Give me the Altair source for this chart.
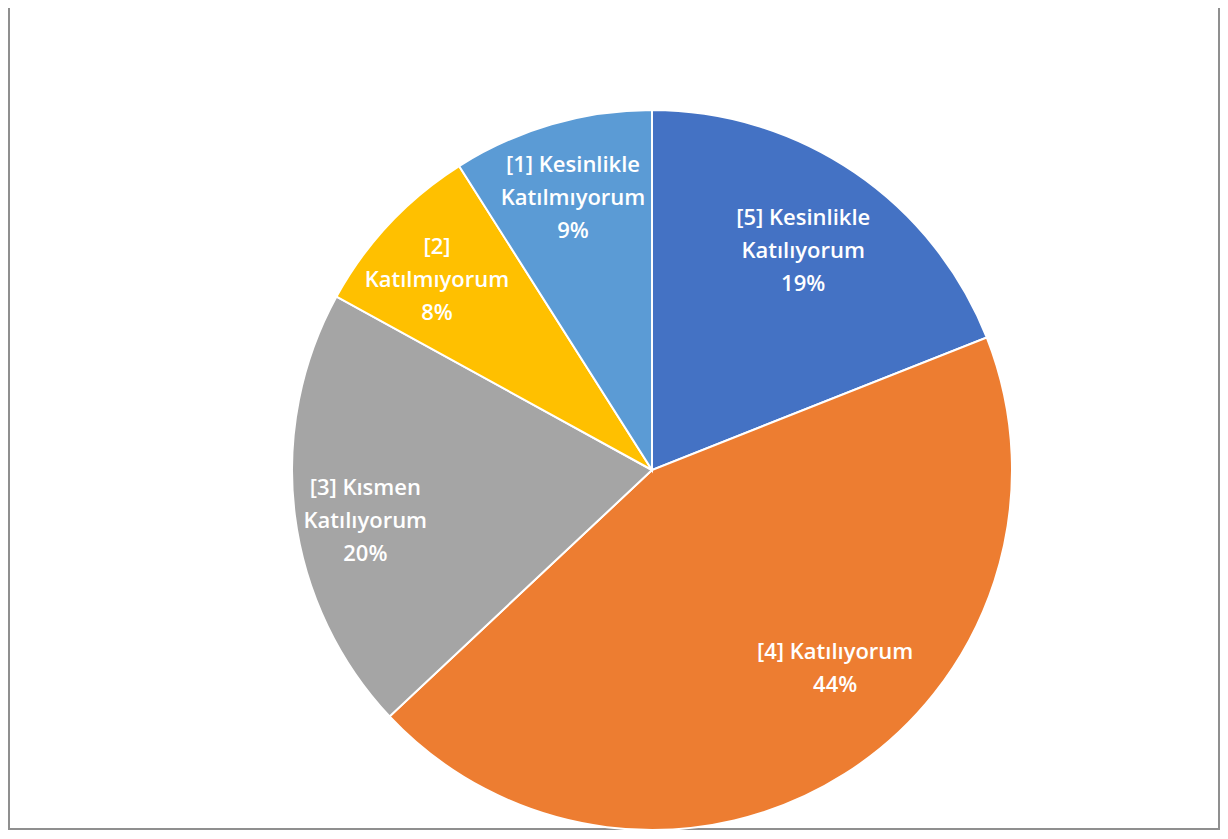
import altair as alt
import pandas as pd

# ---- data ----
categories = [
    "[5] Kesinlikle Katılıyorum",
    "[4] Katılıyorum",
    "[3] Kısmen Katılıyorum",
    "[2] Katılmıyorum",
    "[1] Kesinlikle Katılmıyorum",
]
label_lines = [
    "[5] Kesinlikle\nKatılıyorum",
    "[4] Katılıyorum",
    "[3] Kısmen\nKatılıyorum",
    "[2]\nKatılmıyorum",
    "[1] Kesinlikle\nKatılmıyorum",
]
values = [19, 44, 20, 8, 9]
colors = ["#4472C4", "#ED7D31", "#A5A5A5", "#FFC000", "#5B9BD5"]

df = pd.DataFrame({
    "cat": categories,
    "lines": label_lines,
    "value": values,
    "order": list(range(len(values))),
})
df["label"] = df["lines"] + "\n" + df["value"].astype(str) + "%"

# ---- layout ----
W, H = 1212, 823
CX, CY = 644, 462
R = 360
LH = 33

base = alt.Chart(df).encode(
    theta=alt.Theta("value:Q", stack=True),
    order=alt.Order("order:Q"),
    x=alt.value(CX),
    y=alt.value(CY),
)

pie = base.mark_arc(outerRadius=R, stroke="white", strokeWidth=2).encode(
    color=alt.Color("cat:N", scale=alt.Scale(domain=categories, range=colors), legend=None)
)

text_style = dict(
    color="white", font="Open Sans", fontSize=22, fontWeight=600,
    lineBreak="\n", lineHeight=LH, align="center", baseline="middle",
)

# label placement (radius px, angular offset rad, extra dy px) per slice
placement = {
    0: (269, 0.0, 3),
    1: (270, -0.18, 0),
    2: (291, -0.047, 1),
    3: (287, -0.03, 0),
    4: (283, 0.0, 0),
}

text_layers = []
for i, (rad, toff, extra) in placement.items():
    n_lines = df.loc[i, "label"].count("\n")
    layer = base.mark_text(
        radius=rad, thetaOffset=toff, dy=-LH * n_lines / 2 + extra, **text_style
    ).transform_calculate(
        t=f"datum.order == {i} ? datum.label : ''"
    ).encode(text="t:N")
    text_layers.append(layer)

frame = alt.Chart(alt.Data(values=[{"k": 1}])).mark_rect(
    fill="transparent", stroke="#8f8f8f", strokeWidth=2
).encode(
    x=alt.value(1), x2=alt.value(1211), y=alt.value(-10), y2=alt.value(821)
)

chart = alt.layer(frame, pie, *text_layers).properties(
    width=W, height=H, autosize="none", padding=0, background="white"
).configure_view(strokeWidth=0)

chart.save("out.html", embed_options={"renderer": "svg", "actions": False})
